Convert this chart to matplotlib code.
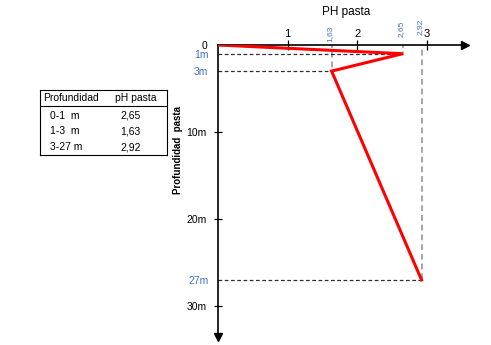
import matplotlib
matplotlib.use("Agg")
import matplotlib.pyplot as plt

# ================= DATA =================
tabla_prof = ["0-1  m", "1-3  m", "3-27 m"]
tabla_ph = ["2,65", "1,63", "2,92"]

perfil_ph = [0, 2.65, 1.63, 2.92]
perfil_prof = [0, 1, 3, 27]

marca_ph = [1.63, 2.65, 2.92]
marca_txt = ["1,63", "2,65", "2,92"]
marca_prof = [3, 1, 27]

y_ticks = [0, 10, 20, 30]
y_labels = ["0", "10m", "20m", "30m"]
y_blue = [1, 3, 27]
y_blue_labels = ["1m", "3m", "27m"]

FONT = ["Liberation Sans", "DejaVu Sans"]
plt.rcParams["font.family"] = FONT
AZUL = "#4472c4"

W, H = 491, 345
fig = plt.figure(figsize=(W / 100, H / 100), dpi=100)

# ================= EJES =================
px_x = 69.7   # px per pH unit
px_y = 8.7    # px per metre
x0, y0 = 218, 45
x_end, y_end = 465, 337
ax = fig.add_axes([x0 / W, 1 - y_end / H, (x_end - x0) / W, (y_end - y0) / H])
ax.set_xlim(0, (x_end - x0) / px_x)
ax.set_ylim((y_end - y0) / px_y, 0)

for s in ["bottom", "right"]:
    ax.spines[s].set_visible(False)
ax.spines["left"].set_linewidth(1.2)
ax.spines["top"].set_linewidth(1.2)
ax.patch.set_alpha(0)

# flechas
ax.plot(1, 1, ">k", ms=6, transform=ax.transAxes, clip_on=False)
ax.plot(0, 0, "vk", ms=6, transform=ax.transAxes, clip_on=False)

ax.xaxis.tick_top()
ax.set_xticks([1, 2, 3])
ax.set_xticklabels(["1", "2", "3"], fontsize=8)
ax.tick_params(axis="x", direction="inout", length=7, width=0.9, pad=1)

ax.set_yticks(y_ticks)
ax.set_yticklabels(y_labels, fontsize=7.5)
ax.set_yticks(y_blue, minor=True)
ax.set_yticklabels(y_blue_labels, minor=True, fontsize=7.5, color=AZUL)
ax.tick_params(axis="y", which="major", direction="inout", length=6, width=0.9, pad=5)
ax.tick_params(axis="y", which="minor", length=0, pad=7)
ax.yaxis.get_major_ticks()[0].tick1line.set_visible(False)

# ================= LINEAS GUIA =================
tops = [-0.3, -0.3, -0.6]
for ph, prof, t in zip(marca_ph, marca_prof, tops):
    ax.vlines(ph, t, prof, colors="#a6a6a6", linestyles=(0, (3, 2)), lw=1.4)
    ax.hlines(prof, 0, ph, colors="#303030", linestyles=(0, (3, 2)), lw=0.9)

offs = [2, 6, 7]
for ph, txt, o in zip(marca_ph, marca_txt, offs):
    ax.annotate(txt, (ph, 0), xytext=(-1, o), textcoords="offset points",
                rotation=90, ha="center", va="bottom", fontsize=6, color=AZUL)

ax.plot(perfil_ph, perfil_prof, color="#ff0000", lw=2.2, solid_joinstyle="miter", zorder=5)

fig.text(346 / W, 1 - 12 / H, "PH pasta", ha="center", va="center", fontsize=8.5)
fig.text(178 / W, 1 - 150 / H, "Profundidad  pasta", rotation=90, ha="center",
         va="center", fontsize=7, fontweight="bold")

# ================= TABLA =================
tx0, tx1, ty0, ty1 = 40, 167, 90, 155
tab = fig.add_axes([tx0 / W, 1 - ty1 / H, (tx1 - tx0) / W, (ty1 - ty0) / H])
tab.set_xlim(tx0, tx1)
tab.set_ylim(ty1, ty0)
tab.set_xticks([])
tab.set_yticks([])
for s in tab.spines.values():
    s.set_linewidth(0.8)
tab.axhline(106, color="black", lw=0.8)
tab.text(43, 98, "Profundidad", va="center", fontsize=7.5)
tab.text(115, 98, "pH pasta", va="center", fontsize=7.5)
filas_y = [116, 131, 147]
for fy, p, v in zip(filas_y, tabla_prof, tabla_ph):
    tab.text(50, fy, p, va="center", fontsize=7.5)
    tab.text(120, fy, v, va="center", fontsize=7.5)

fig.savefig("out.png", dpi=100)
